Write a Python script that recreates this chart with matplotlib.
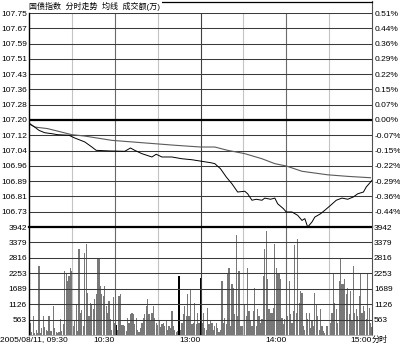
import matplotlib

matplotlib.use("Agg")
import matplotlib.pyplot as plt
from matplotlib.lines import Line2D

plt.rcParams["font.family"] = ["Liberation Sans", "Noto Sans CJK SC"]
plt.rcParams["axes.unicode_minus"] = False

# minutes since 09:30, lunch break removed (120 = 11:30/13:00, 240 = 15:00)
price_min = [0, 4, 7, 11, 16, 20, 28, 32, 39, 44, 47, 56, 67, 71, 74, 79, 86,
             89, 93, 100, 107, 114, 120, 127, 130, 134, 138, 142, 146, 151,
             153, 156, 159, 163, 165, 169, 172, 174, 178, 180, 184, 188, 191,
             193, 195, 198, 200, 204, 207, 211, 215, 219, 223, 227, 230, 234,
             236, 239, 240]
price = [107.181, 107.164, 107.147, 107.135, 107.130, 107.125, 107.122,
         107.108, 107.088, 107.062, 107.045, 107.042, 107.040, 107.057,
         107.045, 107.028, 107.011, 107.025, 107.011, 107.011, 107.002,
         106.997, 106.990, 106.982, 106.977, 106.951, 106.909, 106.874,
         106.832, 106.836, 106.823, 106.790, 106.795, 106.790, 106.801,
         106.795, 106.801, 106.772, 106.747, 106.730, 106.730, 106.713,
         106.687, 106.696, 106.653, 106.679, 106.704, 106.721, 106.739,
         106.764, 106.790, 106.801, 106.795, 106.807, 106.823, 106.832,
         106.858, 106.883, 106.892]

avg_min = [0, 4, 13, 30, 39, 58, 79, 102, 120, 130, 139, 151, 163, 172, 180,
           191, 209, 223, 239]
avg_price = [107.185, 107.164, 107.156, 107.125, 107.118, 107.096, 107.084,
             107.071, 107.062, 107.062, 107.045, 107.028, 107.002, 106.977,
             106.965, 106.938, 106.920, 106.912, 106.905]

# turnover per minute (10k yuan), one list per hour
vol_0930 = [1000, 450, 120, 690, 80, 200, 60, 2520, 90, 250,
            690, 300, 200, 150, 690, 150, 130, 1060, 270, 110,
            90, 110, 600, 150, 400, 2340, 2215, 1970, 2150, 2460,
            2340, 330, 500, 1120, 150, 3130, 820, 900, 330, 3000,
            3310, 1550, 690, 1180, 1100, 940, 1300, 1480, 2760, 2760,
            1790, 1500, 1420, 1790, 1060, 820, 1240, 600, 200, 1400]
vol_1030 = [450, 350, 200, 1420, 1480, 350, 350, 330, 150, 630,
            450, 750, 820, 750, 390, 630, 200, 110, 250, 450,
            630, 750, 1060, 1330, 750, 500, 820, 1060, 630, 450,
            350, 510, 300, 390, 450, 330, 510, 200, 330, 250,
            880, 330, 200, 110, 150, 2150, 200, 450, 750, 1060,
            690, 1480, 690, 1670, 400, 450, 1180, 390, 820, 450]
vol_1300 = [2090, 450, 820, 250, 200, 1000, 390, 510, 450, 200,
            330, 450, 270, 110, 200, 1970, 450, 630, 390, 2280,
            2460, 330, 1850, 1730, 750, 3640, 690, 2340, 330, 330,
            330, 1120, 690, 2460, 880, 510, 330, 880, 1730, 330,
            940, 690, 450, 570, 2150, 3130, 3800, 2030, 940, 820,
            820, 1000, 3310, 2460, 2215, 2215, 2030, 630, 400, 600]
vol_1400 = [2760, 690, 1970, 750, 450, 880, 3270, 820, 3490, 1180,
            1610, 1550, 330, 200, 820, 570, 820, 270, 510, 330,
            1550, 1120, 690, 200, 940, 330, 150, 90, 330, 330,
            200, 450, 820, 2280, 1180, 940, 450, 1970, 2820, 1850,
            1850, 2030, 1480, 1730, 750, 1610, 510, 2520, 820, 940,
            700, 1420, 2280, 820, 1060, 880, 600, 2215, 1000, 450, 300]
up_bars = [0, 61, 105, 120, 180]

prev_close = 107.20
price_labels = ["107.75", "107.67", "107.59", "107.51", "107.43", "107.36",
                "107.28", "107.20", "107.12", "107.04", "106.96", "106.89",
                "106.81", "106.73"]
pct_labels = ["0.51%", "0.44%", "0.36%", "0.29%", "0.22%", "0.15%", "0.07%",
              "0.00%", "-0.07%", "-0.15%", "-0.22%", "-0.29%", "-0.36%",
              "-0.44%"]
vol_labels = ["3942", "3379", "2816", "2253", "1689", "1126", "563"]
time_ticks = [60, 120, 180, 240]
time_labels = ["10:30", "13:00", "14:00", "15:00"]

W, H = 400, 344
fig = plt.figure(figsize=(W / 100, H / 100), dpi=100)
L, R, T, MID, BOT = 29, 372, 13, 227, 335


def fx(px):
    return px / W


def fy(py):
    return 1 - py / H


ax_p = fig.add_axes([fx(L), fy(MID), fx(R - L), fy(T) - fy(MID)])
ax_v = fig.add_axes([fx(L), fy(BOT), fx(R - L), fy(MID) - fy(BOT)])

step = 0.0781
ax_p.set_ylim(prev_close - 7 * step, prev_close + 7 * step)
ax_v.set_ylim(0, 3942)
for ax in (ax_p, ax_v):
    ax.set_xlim(0, 240)
    for s in ax.spines.values():
        s.set_visible(False)
    ax.tick_params(length=0, labelsize=6, pad=1.5, colors="black")
    ax.set_xticks([])

GRID = "#3a3a3a"
# vertical grid
vcols = {30: "#c4c4c4", 60: "#6a6a6a", 90: "#c4c4c4", 120: "#404040",
         150: "#c4c4c4", 180: "#6a6a6a", 210: "#c4c4c4"}
for ax in (ax_p, ax_v):
    for m, c in vcols.items():
        ax.axvline(m, color=c, lw=0.8, zorder=3)

# price panel
p_ticks = [prev_close + k * step for k in range(7, -7, -1)]
ax_p.set_yticks(p_ticks, price_labels)
for y in p_ticks:
    if abs(y - prev_close) < 1e-6:
        ax_p.axhline(y, color="black", lw=1.6, zorder=4)
    else:
        ax_p.axhline(y, color=GRID, lw=0.75, zorder=4)
axr = ax_p.twinx()
axr.set_ylim(ax_p.get_ylim())
axr.set_yticks(p_ticks, pct_labels)
axr.tick_params(length=0, labelsize=6, pad=2)
for s in axr.spines.values():
    s.set_visible(False)

ax_p.plot(avg_min, avg_price, color="#5a5a5a", lw=0.8, zorder=5)
ax_p.plot(price_min, price, color="black", lw=0.7, zorder=6)

# volume panel
volumes = vol_0930 + vol_1030 + vol_1300 + vol_1400
minutes = list(range(len(volumes)))
colors = ["black" if m in up_bars else "#787878" for m in minutes]
ax_v.bar(minutes, volumes, width=0.85, color=colors, lw=0, zorder=2)
v_ticks = [3942 - 563.14 * k for k in range(7)]
ax_v.set_yticks(v_ticks, vol_labels)
ax_v.tick_params(labelright=True)
for y in v_ticks[1:]:
    ax_v.axhline(y, color=GRID, lw=0.75, zorder=4)
ax_v.axhline(3942, color="black", lw=1.6, zorder=4, clip_on=False)

# frame
fig.add_artist(Line2D([fx(L), fx(L)], [fy(T), fy(BOT)], color="black", lw=1))
fig.add_artist(Line2D([fx(R), fx(R)], [fy(1), fy(BOT)], color="#505050", lw=0.8))
fig.add_artist(Line2D([fx(L), fx(R)], [fy(1.5), fy(1.5)], color="black", lw=0.9))
fig.add_artist(Line2D([fx(L), fx(R)], [fy(BOT), fy(BOT)], color="#9a9a9a", lw=0.6))

fig.text(fx(L), fy(6), "国债指数  分时走势  均线  成交额(万)", fontsize=5.8,
         va="center", ha="left",
         bbox=dict(facecolor="white", edgecolor="none", pad=1.2))

# time axis labels
fig.text(fx(0), fy(340), "2005/08/11, 09:30", fontsize=6, va="center", ha="left")
for m, lab in zip(time_ticks, time_labels):
    fig.text(fx(L + m * (R - L) / 240), fy(340), lab, fontsize=6,
             va="center", ha="right")
fig.text(fx(R), fy(340), "分时", fontsize=5.8, va="center", ha="left")

fig.savefig("out.png", dpi=100)
